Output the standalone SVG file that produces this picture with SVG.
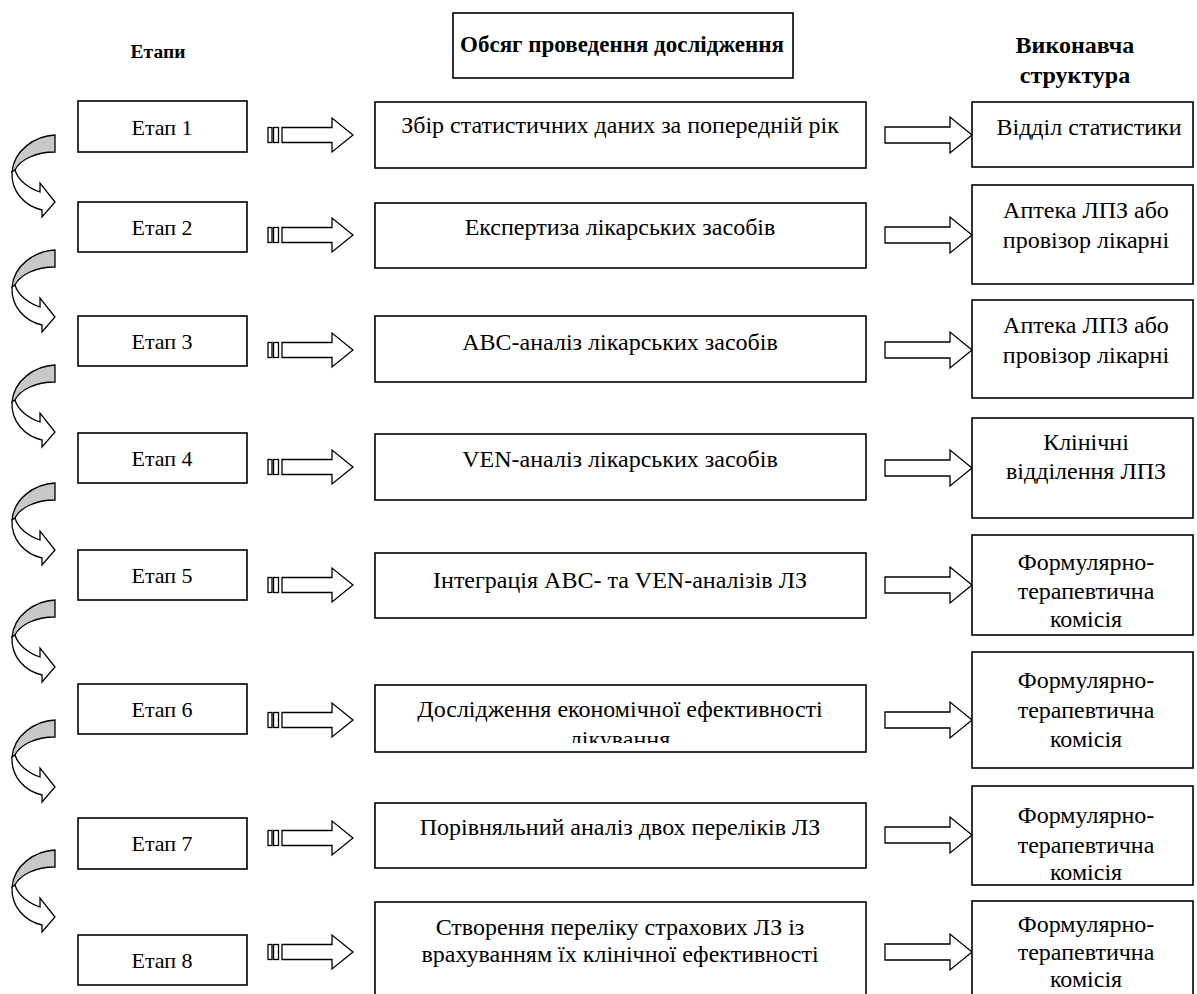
<svg xmlns="http://www.w3.org/2000/svg" xmlns:xlink="http://www.w3.org/1999/xlink" width="1197" height="994" viewBox="0 0 1197 994">
<style>
.box{fill:#fff;stroke:#000;stroke-width:1.6}
.t{font-family:"Liberation Serif","Times New Roman","DejaVu Serif",serif;font-size:24px;fill:#000;text-anchor:middle}
.e{font-size:22px}
.b{font-weight:bold}
.ar{fill:#fff;stroke:#000;stroke-width:1.3;stroke-linejoin:miter}
.gr{fill:#c8c8c8;stroke:#000;stroke-width:1.3}
</style>
<defs>
<g id="curve">
<path class="gr" d="M55,0 C35,1 14,15 12,37 L15,35 C20,25 35,17 55,17 Z"/>
<path class="ar" d="M12,37 C11,57 25,71 42,75 L42,82 L55,67 L40,48 L40,57 C28,53 18,45 15,35 Z"/>
</g>
<g id="striped">
<rect class="ar" x="268" y="-7.5" width="4" height="15"/>
<rect class="ar" x="273.5" y="-7.5" width="5" height="15"/>
<path class="ar" d="M282,-7.5 L332,-7.5 L332,-17 L353,0 L332,17 L332,7.5 L282,7.5 Z"/>
</g>
<g id="rarrow">
<path class="ar" d="M885,-8 L950,-8 L950,-18 L972,0 L950,18 L950,8 L885,8 Z"/>
</g>
<clipPath id="clip6"><rect x="375" y="686" width="490" height="57"/></clipPath>
</defs>
<rect width="1197" height="994" fill="#fff"/>

<g id="headers">
<text class="t b" x="158" y="58" style="font-size:19.5px">Етапи</text>
<rect class="box" x="453" y="13" width="340" height="65"/>
<text class="t b" x="622" y="52" style="font-size:23px">Обсяг проведення дослідження</text>
<text class="t b" x="1075" y="53" style="font-size:24px">Виконавча</text>
<text class="t b" x="1075" y="83" style="font-size:24px">структура</text>
</g>

<g id="connectors">
<use xlink:href="#curve" transform="translate(0,135)"/>
<use xlink:href="#curve" transform="translate(0,250)"/>
<use xlink:href="#curve" transform="translate(0,365)"/>
<use xlink:href="#curve" transform="translate(0,483)"/>
<use xlink:href="#curve" transform="translate(0,600)"/>
<use xlink:href="#curve" transform="translate(0,720)"/>
<use xlink:href="#curve" transform="translate(0,850)"/>
<use xlink:href="#striped" transform="translate(0,135)"/>
<use xlink:href="#striped" transform="translate(0,235)"/>
<use xlink:href="#striped" transform="translate(0,350)"/>
<use xlink:href="#striped" transform="translate(0,467)"/>
<use xlink:href="#striped" transform="translate(0,585)"/>
<use xlink:href="#striped" transform="translate(0,720)"/>
<use xlink:href="#striped" transform="translate(0,838)"/>
<use xlink:href="#striped" transform="translate(0,952)"/>
<use xlink:href="#rarrow" transform="translate(0,135)"/>
<use xlink:href="#rarrow" transform="translate(0,235)"/>
<use xlink:href="#rarrow" transform="translate(0,350)"/>
<use xlink:href="#rarrow" transform="translate(0,468)"/>
<use xlink:href="#rarrow" transform="translate(0,585)"/>
<use xlink:href="#rarrow" transform="translate(0,720)"/>
<use xlink:href="#rarrow" transform="translate(0,835)"/>
<use xlink:href="#rarrow" transform="translate(0,952)"/>
</g>

<g id="etap1"><rect class="box" x="78" y="101" width="169" height="51"/><text class="t e" x="162" y="135">Етап 1</text></g>
<g id="etap2"><rect class="box" x="78" y="202" width="169" height="50"/><text class="t e" x="162" y="235">Етап 2</text></g>
<g id="etap3"><rect class="box" x="78" y="316" width="169" height="50"/><text class="t e" x="162" y="349">Етап 3</text></g>
<g id="etap4"><rect class="box" x="78" y="433" width="169" height="50"/><text class="t e" x="162" y="466">Етап 4</text></g>
<g id="etap5"><rect class="box" x="78" y="550" width="169" height="50"/><text class="t e" x="162" y="583">Етап 5</text></g>
<g id="etap6"><rect class="box" x="78" y="684" width="169" height="50"/><text class="t e" x="162" y="717">Етап 6</text></g>
<g id="etap7"><rect class="box" x="78" y="818" width="169" height="51"/><text class="t e" x="162" y="851">Етап 7</text></g>
<g id="etap8"><rect class="box" x="78" y="935" width="169" height="50"/><text class="t e" x="162" y="968">Етап 8</text></g>

<g id="task1"><rect class="box" x="375" y="102" width="491" height="66"/><text class="t" x="620" y="133">Збір статистичних даних за попередній рік</text></g>
<g id="task2"><rect class="box" x="375" y="203" width="491" height="65"/><text class="t" x="620" y="235">Експертиза лікарських засобів</text></g>
<g id="task3"><rect class="box" x="375" y="316" width="491" height="66"/><text class="t" x="620" y="350">ABC-аналіз лікарських засобів</text></g>
<g id="task4"><rect class="box" x="375" y="434" width="491" height="66"/><text class="t" x="620" y="467">VEN-аналіз лікарських засобів</text></g>
<g id="task5"><rect class="box" x="375" y="553" width="491" height="65"/><text class="t" x="620" y="588">Інтеграція ABC- та VEN-аналізів ЛЗ</text></g>
<g id="task6"><rect class="box" x="375" y="685" width="491" height="67"/><g clip-path="url(#clip6)"><text class="t" x="620" y="717">Дослідження економічної ефективності</text><text class="t" x="620" y="747">лікування</text></g></g>
<g id="task7"><rect class="box" x="375" y="803" width="491" height="65"/><text class="t" x="620" y="835">Порівняльний аналіз двох переліків ЛЗ</text></g>
<g id="task8"><rect class="box" x="375" y="902" width="491" height="100"/><text class="t" x="620" y="935">Створення переліку страхових ЛЗ із</text><text class="t" x="620" y="962">врахуванням їх клінічної ефективності</text></g>

<g id="exec1"><rect class="box" x="972" y="102" width="221" height="65"/><text class="t" x="1089" y="135">Відділ статистики</text></g>
<g id="exec2"><rect class="box" x="972" y="185" width="221" height="99"/><text class="t" x="1086" y="218">Аптека ЛПЗ або</text><text class="t" x="1086" y="248">провізор лікарні</text></g>
<g id="exec3"><rect class="box" x="972" y="300" width="221" height="98"/><text class="t" x="1086" y="333">Аптека ЛПЗ або</text><text class="t" x="1086" y="363">провізор лікарні</text></g>
<g id="exec4"><rect class="box" x="972" y="418" width="221" height="100"/><text class="t" x="1086" y="450">Клінічні</text><text class="t" x="1086" y="479">відділення ЛПЗ</text></g>
<g id="exec5"><rect class="box" x="972" y="535" width="221" height="100"/><text class="t" x="1086" y="570">Формулярно-</text><text class="t" x="1086" y="599">терапевтична</text><text class="t" x="1086" y="627">комісія</text></g>
<g id="exec6"><rect class="box" x="972" y="652" width="221" height="116"/><text class="t" x="1086" y="688">Формулярно-</text><text class="t" x="1086" y="718">терапевтична</text><text class="t" x="1086" y="747">комісія</text></g>
<g id="exec7"><rect class="box" x="972" y="786" width="221" height="99"/><text class="t" x="1086" y="823">Формулярно-</text><text class="t" x="1086" y="853">терапевтична</text><text class="t" x="1086" y="880">комісія</text></g>
<g id="exec8"><rect class="box" x="972" y="901" width="221" height="100"/><text class="t" x="1086" y="932">Формулярно-</text><text class="t" x="1086" y="960">терапевтична</text><text class="t" x="1086" y="987">комісія</text></g>
</svg>
